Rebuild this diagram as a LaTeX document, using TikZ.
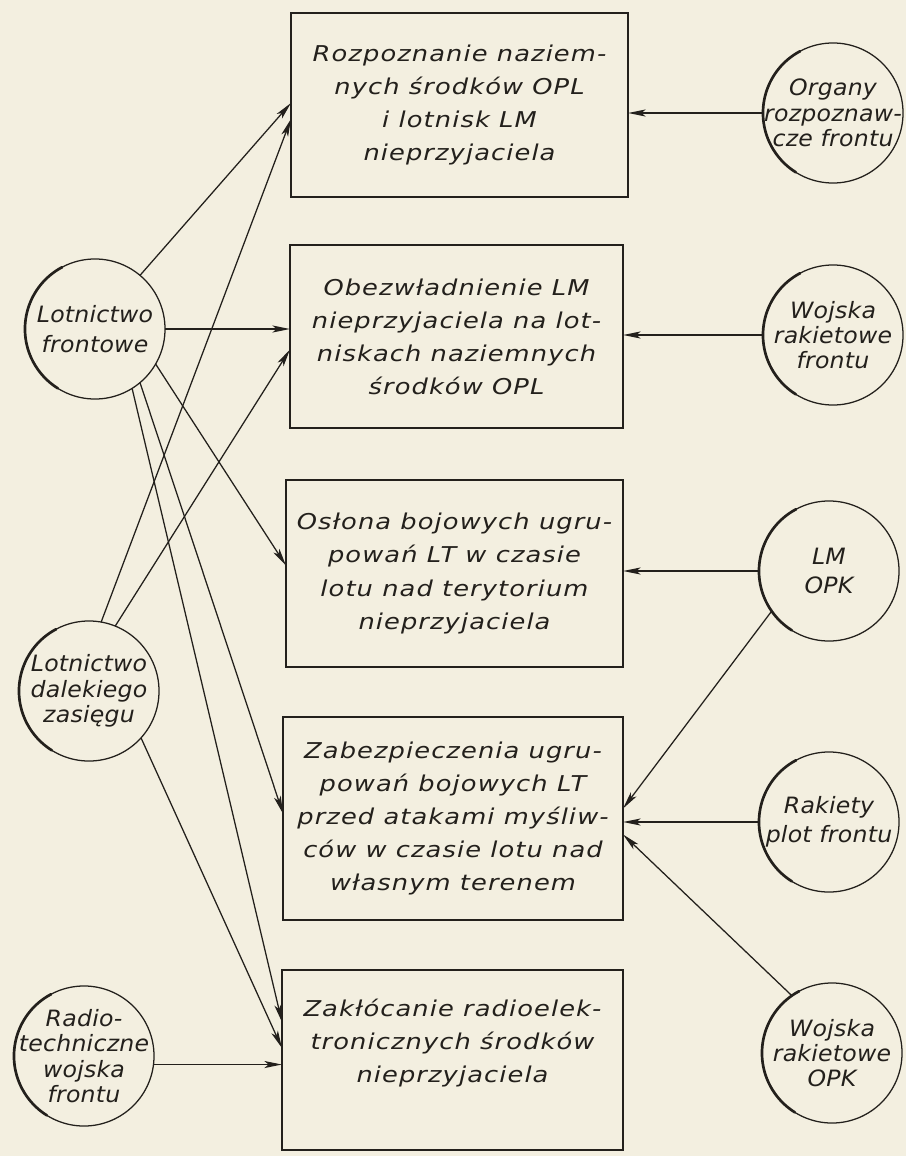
\documentclass[tikz,border=0pt]{standalone}
\usepackage{fontspec}
\usetikzlibrary{arrows.meta,calc}
\newfontfamily\boxfnt{DejaVu Sans}[FakeStretch=1.18,LetterSpace=5]
\newfontfamily\circfnt{DejaVu Sans}[FakeStretch=1.05,LetterSpace=1]
\definecolor{paper}{RGB}{243,239,224}
\definecolor{ink}{RGB}{35,32,28}
\begin{document}
\begin{tikzpicture}[x=0.025cm,y=-0.025cm,
  box/.style={draw=ink, line width=1.9pt, rectangle, inner sep=0pt, outer sep=0pt},
  boxtext/.style={text=ink, align=center, font=\boxfnt\itshape\fontsize{15.5pt}{23.5pt}\selectfont},
  circ/.style={circle, draw=ink, line width=0.9pt, minimum size=3.5cm, inner sep=-0.8cm, outer sep=0pt,
    text=ink, align=center, font=\circfnt\itshape\fontsize{16pt}{18pt}\selectfont},
  circtwo/.style={circ, font=\circfnt\itshape\fontsize{16pt}{21pt}\selectfont},
  heavyarc/.style={draw=ink, line width=1.9pt, line cap=round},
  arr/.style={draw=ink, line width=0.9pt, -{Stealth[length=12.5pt,width=5pt,inset=3pt]}}
]
\fill[paper] (0,0) rectangle (906,1156);
\useasboundingbox (0,0) rectangle (906,1156);

% boxes
\node[box, boxtext, minimum width=8.425cm, minimum height=4.6cm] (b1) at (459.5,105)
  {Rozpoznanie naziem-\\nych środków OPL\\i lotnisk LM\\nieprzyjaciela};
\node[box, boxtext, minimum width=8.325cm, minimum height=4.575cm] (b2) at (456.5,336.5)
  {Obezwładnienie LM\\nieprzyjaciela na lot-\\niskach naziemnych\\środków OPL};
\node[box, boxtext, minimum width=8.425cm, minimum height=4.675cm] (b3) at (454.5,573.5)
  {Osłona bojowych ugru-\\powań LT w czasie\\lotu nad terytorium\\nieprzyjaciela};
\node[box, boxtext, minimum width=8.5cm, minimum height=5.075cm] (b4) at (453,818.5)
  {Zabezpieczenia ugru-\\powań bojowych LT\\przed atakami myśliw-\\ców w czasie lotu nad\\własnym terenem};
\node[box, minimum width=8.525cm, minimum height=4.5cm] (b5) at (452.5,1060) {};
\node[boxtext] (t5) at ($(b5.center)+(0,-17)$)
  {Zakłócanie radioelek-\\tronicznych środków\\nieprzyjaciela};

% circles
\node[circ] (org) at (833,113) {Organy\\rozpoznaw-\\cze frontu};
\node[circ] (wrf) at (833,335) {Wojska\\rakietowe\\frontu};
\node[circtwo] (lmopk) at (829,571) {LM\\OPK};
\node[circtwo] (rpf) at (829,822) {Rakiety\\plot frontu};
\node[circ] (wro) at (832,1053) {Wojska\\rakietowe\\OPK};
\node[circtwo] (lf) at (95,329) {Lotnictwo\\frontowe};
\node[circ] (ldz) at (89,691) {Lotnictwo\\dalekiego\\zasięgu};
\node[circ] (rad) at (84,1056) {Radio-\\techniczne\\wojska\\frontu};

\foreach \n in {org,wrf,lmopk,rpf,wro,lf,ldz,rad}
  \draw[heavyarc] (\n.118) arc[start angle=118, end angle=238, radius=1.75cm];

% right-hand connectors
\draw[arr] (org.west) -- (org.west -| b1.east);
\draw[arr] (wrf.west) -- (wrf.west -| b2.east);
\draw[arr] (lmopk.west) -- (lmopk.west -| b3.east);
\draw[arr] (lmopk.215) -- ($(b4.east)+(0,-10)$);
\draw[arr] (rpf.west) -- (rpf.west -| b4.east);
\draw[arr] (wro.125) -- ($(b4.east)+(0,16)$);

% left-hand connectors
\coordinate (radout) at (rad.-7);
\draw[arr] (lf.50) -- ($(b1.west)+(0,-2)$);
\draw[arr] (ldz.80) -- ($(b1.west)+(0,14)$);
\draw[arr] (lf.east) -- (lf.east -| b2.west);
\draw[arr] (ldz.68) -- ($(b2.west)+(0,13)$);
\draw[arr] (lf.-30) -- ($(b3.west)+(0,-8)$);
\draw[arr] (lf.-50) -- ($(b4.west)+(0,-5)$);
\draw[arr] (lf.-58) -- ($(b5.west)+(0,-38)$);
\draw[arr] (ldz.-42) -- ($(b5.west)+(0,-12)$);
\draw[arr] (radout) -- (radout -| b5.west);
\end{tikzpicture}
\end{document}
